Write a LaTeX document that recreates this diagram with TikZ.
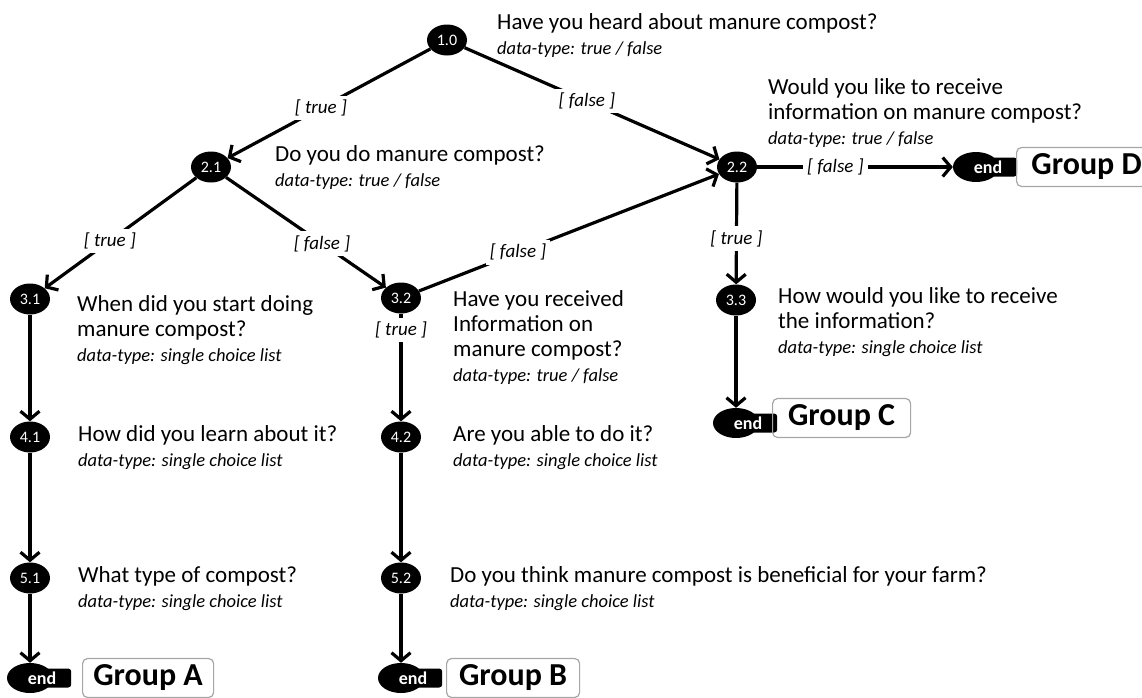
\documentclass[tikz,border=0pt]{standalone}
\usepackage{fontspec}
\setmainfont{Carlito}
\usetikzlibrary{arrows.meta, shapes.geometric}

\newcommand{\dtype}[1]{{\fontsize{18.5}{24}\selectfont\itshape data-type: #1}}

\begin{document}
\begin{tikzpicture}[x=1pt, y=-1pt,
    qnode/.style={ellipse, fill=black, text=white, minimum width=40pt, minimum height=31pt, inner sep=0pt, font=\fontsize{16}{16}\selectfont},
    endnode/.style={ellipse, fill=black, minimum width=46pt, minimum height=30pt, inner sep=0pt},
    endtab/.style={fill=black, rounded corners=3pt, minimum width=28pt, minimum height=19pt, inner sep=0pt},
    endtxt/.style={text=white, font=\fontsize{18}{18}\selectfont\bfseries, inner sep=0pt},
    grp/.style={draw=gray!70, rounded corners=5pt, line width=1.2pt, minimum height=39pt, inner sep=0pt, font=\fontsize{32}{32}\selectfont\bfseries},
    qtext/.style={anchor=north west, align=left, inner sep=0pt, font=\fontsize{23}{25}\selectfont},
    lbl/.style={fill=white, inner sep=4pt, font=\fontsize{19}{19}\selectfont\itshape},
    flow/.style={-{Straight Barb[length=8pt,width=19pt]}, line width=3.2pt}]
    \useasboundingbox (0,0) rectangle (1142,697);
    % question nodes
    \node[qnode] (n10) at (447,40) {1.0};
    \node[qnode] (n21) at (211,167) {2.1};
    \node[qnode] (n22) at (737,167) {2.2};
    \node[qnode] (n31) at (30,299) {3.1};
    \node[qnode] (n32) at (401,298) {3.2};
    \node[qnode] (n33) at (736,300) {3.3};
    \node[qnode] (n41) at (30,437) {4.1};
    \node[qnode] (n42) at (401,437) {4.2};
    \node[qnode] (n51) at (30,578) {5.1};
    \node[qnode] (n52) at (401,578) {5.2};
    % question texts
    \node[qtext] (q10) at (497,13) {Have you heard about manure compost?\\\dtype{true / false}};
    \node[qtext] (q21) at (275,145) {Do you do manure compost?\\\dtype{true / false}};
    \node[qtext] (q22) at (768,78) {Would you like to receive\\information on manure compost?\\\dtype{true / false}};
    \node[qtext] (q31) at (77,295) {When did you start doing\\manure compost?\\\dtype{single choice list}};
    \node[qtext] (q32) at (453,290) {Have you received\\Information on\\manure compost?\\\dtype{true / false}};
    \node[qtext] (q33) at (778,287) {How would you like to receive\\the information?\\\dtype{single choice list}};
    \node[qtext] (q41) at (78,425) {How did you learn about it?\\\dtype{single choice list}};
    \node[qtext] (q42) at (453,425) {Are you able to do it?\\\dtype{single choice list}};
    \node[qtext] (q51) at (78,566) {What type of compost?\\\dtype{single choice list}};
    \node[qtext] (q52) at (450,566) {Do you think manure compost is beneficial for your farm?\\\dtype{single choice list}};
    % end points
    \node[endnode] (endA) at (30,678) {};
    \node[endtab, anchor=west] (tabA) at ([xshift=13pt]endA.center) {};
    \node[endtxt] at ([xshift=12pt]endA.center) {end};
    \node[endnode] (endB) at (401,678) {};
    \node[endtab, anchor=west] (tabB) at ([xshift=13pt]endB.center) {};
    \node[endtxt] at ([xshift=12pt]endB.center) {end};
    \node[endnode] (endC) at (736,423) {};
    \node[endtab, anchor=west] (tabC) at ([xshift=13pt]endC.center) {};
    \node[endtxt] at ([xshift=12pt]endC.center) {end};
    \node[endnode] (endD) at (976,167) {};
    \node[endtab, anchor=west] (tabD) at ([xshift=13pt]endD.center) {};
    \node[endtxt] at ([xshift=12pt]endD.center) {end};
    % groups
    \node[grp, anchor=west, minimum width=131pt] (grpA) at (82,678) {Group A};
    \node[grp, anchor=west, minimum width=133pt] (grpB) at (446,678) {Group B};
    \node[grp, anchor=west, minimum width=138pt] (grpC) at (772,418) {Group C};
    \node[grp, anchor=west, minimum width=140pt] (grpD) at (1016,167) {Group D};
    % connectors
    \draw[flow] (n10) -- node[lbl, pos=0.54] {[ true ]} (n21);
    \draw[flow] (n10) -- node[lbl, pos=0.48] {[ false ]} (n22);
    \draw[flow] (n21) -- node[lbl, pos=0.57] {[ true ]} (n31);
    \draw[flow] (n21) -- node[lbl, pos=0.6] {[ false ]} (n32);
    \draw[flow] (n32) -- node[lbl, pos=0.33] {[ false ]} (n22);
    \draw[flow] (n22) -- node[lbl, pos=0.4] {[ false ]} (endD);
    \draw[flow] (n22) -- node[lbl, pos=0.55] {[ true ]} (n33);
    \draw[flow] (n32) -- node[lbl, pos=0.15] {[ true ]} (n42);
    \draw[flow] (n31) -- (n41);
    \draw[flow] (n41) -- (n51);
    \draw[flow] (n51) -- (endA);
    \draw[flow] (n42) -- (n52);
    \draw[flow] (n52) -- (endB);
    \draw[flow] (n33) -- (endC);
\end{tikzpicture}
\end{document}
